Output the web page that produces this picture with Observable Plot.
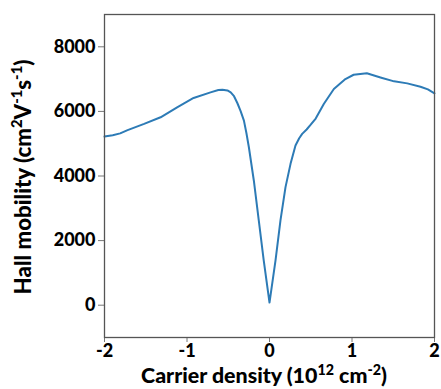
<!DOCTYPE html>
<html>
<head>
<meta charset="utf-8">
<script src="https://cdn.jsdelivr.net/npm/d3@7"></script>
<script src="https://cdn.jsdelivr.net/npm/@observablehq/plot@0.6"></script>
<style>
  html, body { margin: 0; padding: 0; background: #fff; }
  svg { display: block; }
</style>
</head>
<body>
<div id="chart"></div>
<script>
// Carrier density (10^12 cm^-2)
const density = [-2.0, -1.90, -1.81, -1.72, -1.52, -1.32, -1.12, -0.92, -0.715, -0.62, -0.57, -0.51, -0.47, -0.43, -0.39, -0.35, -0.31, -0.28, -0.25, -0.19, -0.13, -0.07, 0.0, 0.073, 0.133, 0.194, 0.255, 0.315, 0.36, 0.396, 0.45, 0.497, 0.56, 0.658, 0.78, 0.92, 1.02, 1.10, 1.18, 1.345, 1.51, 1.67, 1.83, 1.92, 2.0];
// Hall mobility (cm^2 V^-1 s^-1)
const mobility = [5220, 5260, 5320, 5420, 5612, 5818, 6127, 6415, 6590, 6660, 6672, 6650, 6590, 6470, 6260, 6010, 5714, 5330, 4890, 3861, 2625, 1390, 80, 1390, 2625, 3655, 4376, 4942, 5170, 5303, 5440, 5580, 5780, 6230, 6693, 7002, 7135, 7160, 7180, 7052, 6930, 6868, 6765, 6680, 6560];
const xTicks = [-2, -1, 0, 1, 2];
const yTicks = [0, 2000, 4000, 6000, 8000];

const data = density.map((d, i) => ({x: d, y: mobility[i]}));

const font = "Lato, 'Open Sans', sans-serif";

const chart = Plot.plot({
  width: 441,
  height: 389,
  marginLeft: 104,
  marginRight: 7,
  marginTop: 14,
  marginBottom: 52,
  style: {fontFamily: font, fontWeight: "900", fontSize: "18px", color: "black", background: "white"},
  x: {domain: [-2, 2]},
  y: {domain: [-1000, 9000]},
  marks: [
    Plot.axisX({ticks: xTicks, tickSize: 5, tickPadding: 2, stroke: "#777", fill: "black", label: null, tickFormat: d => String(d)}),
    Plot.axisY({ticks: yTicks, tickSize: 6, tickPadding: 3, stroke: "#777", fill: "black", label: null, tickFormat: d => String(d)}),
    Plot.line(data, {x: "x", y: "y", stroke: "#2d7bb6", strokeWidth: 2, strokeLinejoin: "round"}),
    Plot.frame({stroke: "#555", strokeWidth: 1.3})
  ]
});

document.getElementById("chart").appendChild(chart);

const svg = d3.select(chart);

function fit(sel, target) {
  const w = sel.node().getBBox().width;
  if (w > 0) {
    const k = target / w;
    sel.attr("font-size", 18 * k);
    sel.selectAll("tspan").each(function() {
      const t = d3.select(this);
      const fs = t.attr("font-size");
      if (fs) t.attr("font-size", +fs * k);
      const dy = t.attr("dy");
      if (dy) t.attr("dy", +dy * k);
    });
  }
}

// X axis label
const xl = svg.append("text")
  .attr("x", 264).attr("y", 383)
  .attr("text-anchor", "middle")
  .attr("font-family", font).attr("font-weight", "900").attr("font-size", 18)
  .attr("fill", "black");
xl.append("tspan").text("Carrier density (10");
xl.append("tspan").attr("font-size", 12).attr("dy", -7).text("12");
xl.append("tspan").attr("dy", 7).text(" cm");
xl.append("tspan").attr("font-size", 12).attr("dy", -7).text("-2");
xl.append("tspan").attr("dy", 7).text(")");
fit(xl, 246);

// Y axis label
const yl = svg.append("text")
  .attr("transform", "translate(31,177) rotate(-90)")
  .attr("text-anchor", "middle")
  .attr("font-family", font).attr("font-weight", "900").attr("font-size", 18)
  .attr("fill", "black");
yl.append("tspan").text("Hall mobility (cm");
yl.append("tspan").attr("font-size", 12).attr("dy", -7).text("2");
yl.append("tspan").attr("dy", 7).text("V");
yl.append("tspan").attr("font-size", 12).attr("dy", -7).text("-1");
yl.append("tspan").attr("dy", 7).text("s");
yl.append("tspan").attr("font-size", 12).attr("dy", -7).text("-1");
yl.append("tspan").attr("dy", 7).text(")");
fit(yl, 235);
</script>
</body>
</html>
